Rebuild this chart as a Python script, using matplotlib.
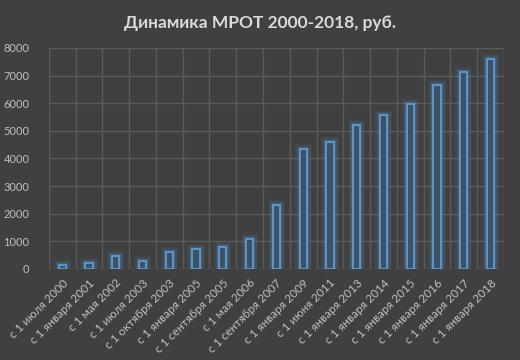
import numpy as np
import matplotlib
matplotlib.use('Agg')
import matplotlib.pyplot as plt
import matplotlib.patheffects as pe

## Data ##
labels = [
    'с 1 июля 2000', 'с 1 января 2001', 'с 1 мая 2002', 'с 1 июля 2003',
    'с 1 октября 2003', 'с 1 января 2005', 'с 1 сентября 2005', 'с 1 мая 2006',
    'с 1 сентября 2007', 'с 1 января 2009', 'с 1 июня 2011', 'с 1 января 2013',
    'с 1 января 2014', 'с 1 января 2015', 'с 1 января 2016', 'с 1 января 2017',
    'с 1 января 2018',
]
values = [132, 200, 450, 300, 600, 720, 800, 1100, 2300, 4330, 4611, 5205,
          5554, 5965, 6650, 7130, 7600]
yticks = [0, 1000, 2000, 3000, 4000, 5000, 6000, 7000, 8000]

bg = '#404040'
grid_c = '#5a5a5a'
text_c = '#bfbfbf'
blue = '#5b9bd5'

plt.rcParams['font.family'] = ['Lato', 'DejaVu Sans']

fig = plt.figure(figsize=(5.2, 3.6), dpi=100, facecolor=bg)
ax = fig.add_axes([0.094, 0.253, 0.875, 0.614], facecolor=bg)

x_pos = np.arange(len(labels))
bars = ax.bar(x_pos, values, width=0.27, color='#3f5263', edgecolor=blue,
              linewidth=1.3, zorder=3)
glow = [pe.Stroke(linewidth=7, foreground=blue, alpha=0.08),
        pe.Stroke(linewidth=5, foreground=blue, alpha=0.12),
        pe.Stroke(linewidth=3, foreground=blue, alpha=0.2),
        pe.Normal()]
for b in bars:
    b.set_path_effects(glow)

ax.set_xlim(-0.5, len(labels) - 0.5)
ax.set_ylim(0, 8000)
ax.set_yticks(yticks)
ax.set_yticklabels([str(v) for v in yticks])
ax.set_xticks(x_pos)
ax.set_xticklabels(labels, rotation=45, ha='right', rotation_mode='anchor')

# gridlines: horizontal at ticks, vertical between categories
for y in yticks:
    ax.axhline(y, color=grid_c, linewidth=1, zorder=1)
for x in np.arange(-0.5, len(labels), 1.0):
    ax.axvline(x, ymin=0, ymax=1, color=grid_c, linewidth=1, zorder=1)

for s in ax.spines.values():
    s.set_visible(False)
ax.tick_params(axis='both', length=0, colors=text_c, labelsize=8)
ax.tick_params(axis='x', labelsize=8.5, pad=6)
ax.tick_params(axis='y', pad=14)

fig.text(0.5, 0.935, 'Динамика МРОТ 2000-2018, руб.', ha='center', va='center',
         color='#d9d9d9', fontsize=12.5, fontweight='bold')

fig.savefig('out.png', dpi=100, facecolor=bg)
